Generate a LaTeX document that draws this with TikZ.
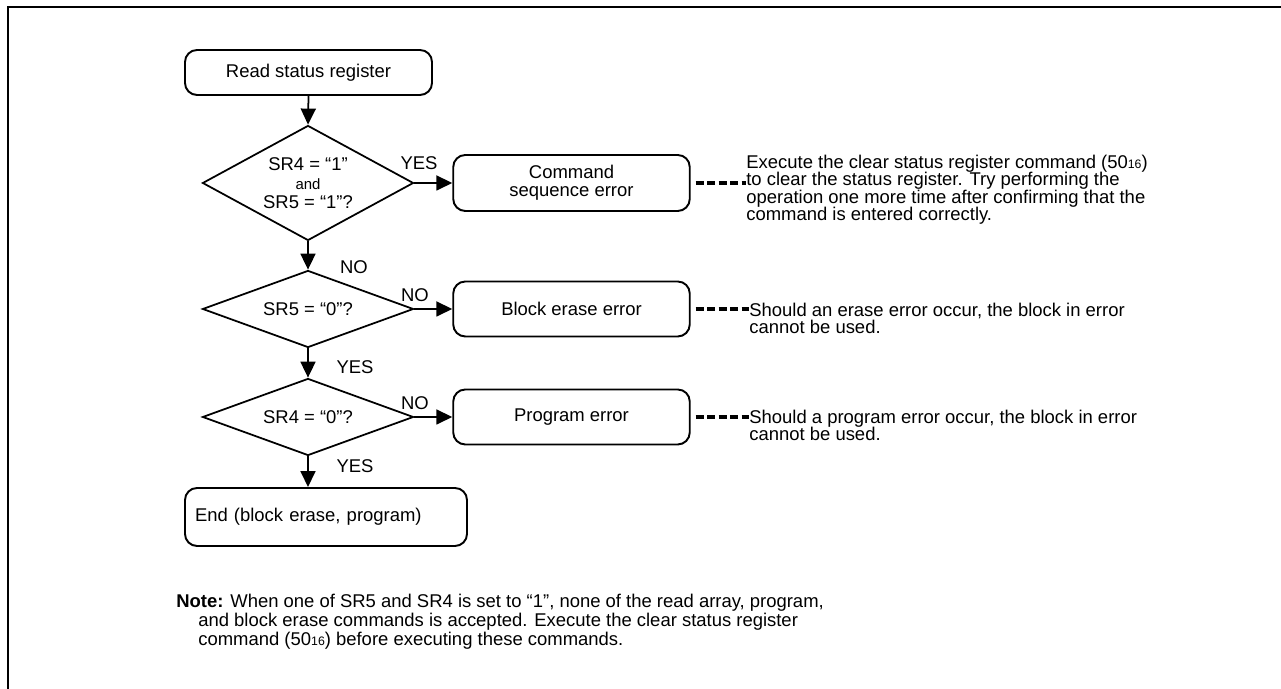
\documentclass[tikz,border=0pt]{standalone}
\usepackage{fontspec}
\setmainfont{Liberation Sans}
\usetikzlibrary{shapes.geometric,arrows.meta}
\newcommand{\hexnum}[1]{#1{\fontsize{7}{7}\selectfont 16}}

\begin{document}
\begin{tikzpicture}[x=1cm,y=1cm,
  font=\fontsize{10.5}{10}\selectfont,
  stepbox/.style={draw,line width=1.1pt,rounded corners=0.24cm,align=center,inner sep=0pt},
  decision/.style={draw,shape=diamond,line width=1pt,align=center,inner sep=0pt,minimum width=4.22cm},
  flowarrow/.style={line width=1pt,-{Triangle[length=0.32cm,width=0.30cm]}},
  notedash/.style={line width=1.9pt,dash pattern=on 0.16cm off 0.07cm},
  notetext/.style={anchor=base west,align=left,inner sep=0pt},
  branchlabel/.style={inner sep=0pt}]
\path[use as bounding box] (0,0) rectangle (25.62,13.78);
\draw[line width=1.6pt] (0.16,0) -- (0.16,13.64) -- (25.62,13.64);
% main flow
\node[stepbox,minimum width=4.94cm,minimum height=0.90cm] (rdsr) at (6.17,12.33) {Read status register};
\node[decision,aspect=1.83,minimum height=2.30cm] (chkboth) at (6.16,10.12) {SR4 = “1”\\[1pt]{\fontsize{8.5}{9}\selectfont and}\\[1pt]SR5 = “1”?};
\node[decision,aspect=2.74,minimum height=1.54cm] (chksr5) at (6.16,7.60) {SR5 = “0”?};
\node[decision,aspect=2.74,minimum height=1.54cm] (chksr4) at (6.16,5.44) {SR4 = “0”?};
\node[stepbox,minimum width=5.64cm,minimum height=1.16cm,text width=5.24cm,align=left,inner xsep=0.2cm] (finish) at (6.52,3.44) {End (block erase, program)};
% error boxes
\node[stepbox,minimum width=4.73cm,minimum height=1.12cm] (seqerr) at (11.43,10.12) {Command\\sequence error};
\node[stepbox,minimum width=4.73cm,minimum height=1.10cm] (eraseerr) at (11.43,7.60) {Block erase error};
\node[stepbox,minimum width=4.73cm,minimum height=1.10cm] (progerr) at (11.43,5.44) {Program error};
% branch labels
\node[branchlabel] (yesboth) at (8.38,10.52) {YES};
\node[branchlabel] (noboth) at (7.08,8.44) {NO};
\node[branchlabel] (nosr5) at (8.30,7.88) {NO};
\node[branchlabel] (yessr5) at (7.10,6.44) {YES};
\node[branchlabel] (nosr4) at (8.30,5.72) {NO};
\node[branchlabel] (yessr4) at (7.10,4.46) {YES};
% connectors
\draw[flowarrow] (rdsr.south) -- (chkboth.north);
\draw[flowarrow] (chkboth.south) -- (chksr5.north);
\draw[flowarrow] (chksr5.south) -- (chksr4.north);
\draw[flowarrow] (chksr4.south) -- (chksr4.south |- finish.north);
\draw[flowarrow] (chkboth.east) -- (seqerr.west);
\draw[flowarrow] (chksr5.east) -- (eraseerr.west);
\draw[flowarrow] (chksr4.east) -- (progerr.west);
% notes
\node[notetext] (noteseq) at (14.92,9.36) {Execute the clear status register command (\hexnum{50})\\to clear the status register. Try performing the\\operation one more time after confirming that the\\command is entered correctly.};
\node[notetext] (noteerase) at (14.98,7.10) {Should an erase error occur, the block in error\\cannot be used.};
\node[notetext] (noteprog) at (14.98,4.96) {Should a program error occur, the block in error\\cannot be used.};
\draw[notedash] ([xshift=0.1cm]seqerr.east) -- (seqerr.east -| noteseq.west);
\draw[notedash] ([xshift=0.1cm]eraseerr.east) -- (eraseerr.east -| noteerase.west);
\draw[notedash] ([xshift=0.1cm]progerr.east) -- (progerr.east -| noteprog.west);
\node[notetext,font=\fontsize{10.5}{9.4}\selectfont] (note) at (3.52,0.87) {\textbf{Note:} When one of SR5 and SR4 is set to “1”, none of the read array, program,\\\hspace*{0.44cm}and block erase commands is accepted. Execute the clear status register\\\hspace*{0.44cm}command (\hexnum{50}) before executing these commands.};
\end{tikzpicture}
\end{document}
